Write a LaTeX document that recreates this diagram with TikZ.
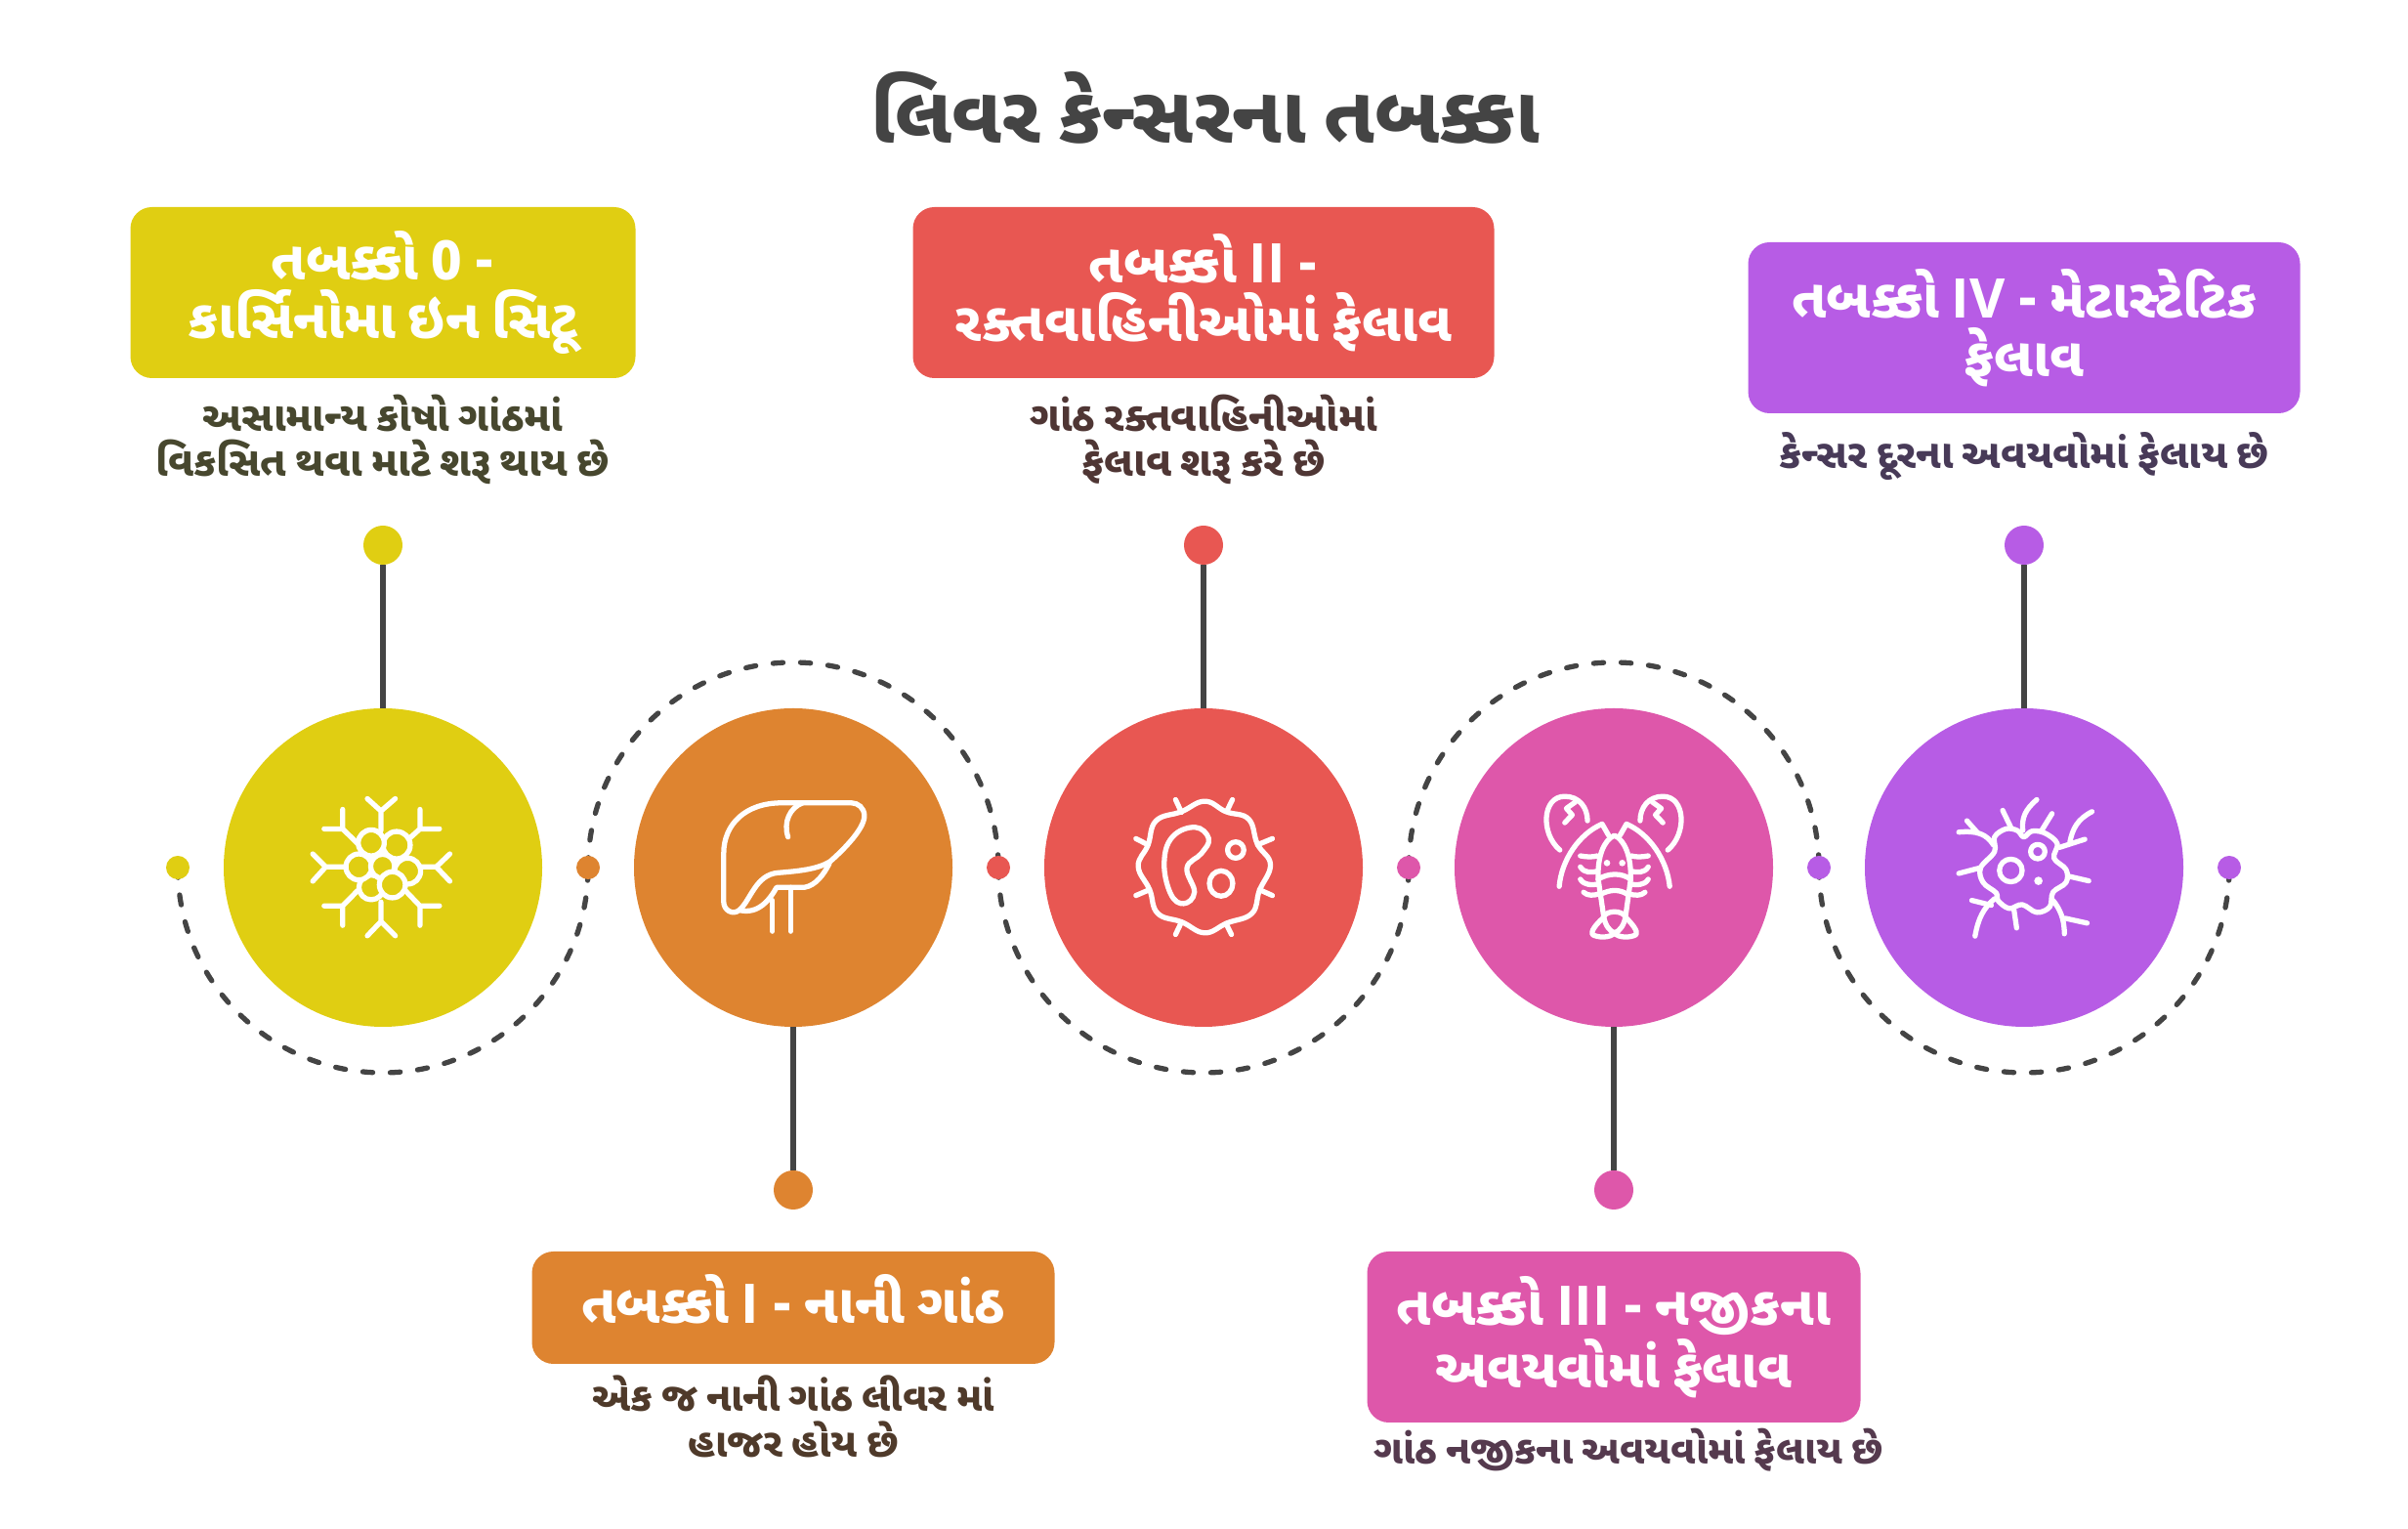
\documentclass[tikz,border=0pt]{standalone}
\usepackage{fontspec}
\usetikzlibrary{positioning}
\usetikzlibrary{backgrounds}
\newfontfamily\gujfont[Script=Gujarati,WordSpace=0.75]{Noto Sans Gujarati UI}
\newfontfamily\latinfont{Open Sans}
\newcommand{\rnum}[1]{{\latinfont\bfseries #1}}
\definecolor{cyellow}{HTML}{E0CE12}
\definecolor{corange}{HTML}{DE8430}
\definecolor{cred}{HTML}{E85752}
\definecolor{cpink}{HTML}{DE57AA}
\definecolor{cpurple}{HTML}{B75CE5}
\definecolor{cline}{HTML}{444444}
\definecolor{tyellow}{HTML}{47472E}
\definecolor{torange}{HTML}{4F3A2A}
\definecolor{tred}{HTML}{4F3634}
\definecolor{tpink}{HTML}{553A4E}
\definecolor{tpurple}{HTML}{483A58}
\tikzstyle{stagedisc} = [circle,inner sep=0pt,outer sep=0pt,minimum size=3.26cm]
\tikzstyle{tinydot} = [circle,inner sep=0pt,outer sep=0pt,minimum size=.24cm]
\tikzstyle{pindot} = [circle,inner sep=0pt,outer sep=0pt,minimum size=.40cm]
\tikzstyle{stem} = [draw=cline,line width=1.5pt]
\tikzstyle{dashline} = [draw=cline,line width=1.5pt,line cap=round,dash pattern=on 2.9pt off 5.1pt]
\tikzstyle{stagebox} = [rounded corners=.22cm,inner sep=0pt,outer sep=0pt,text=white,align=center,font=\gujfont\fontsize{15.9}{17}\selectfont\bfseries]
\tikzstyle{descr} = [inner sep=0pt,outer sep=0pt,align=center,font=\gujfont\fontsize{11.9}{13.2}\selectfont\bfseries]
\tikzstyle{icon} = [draw=white,line width=1.5pt,line cap=round,line join=round]

\begin{document}
\begin{tikzpicture}
\useasboundingbox (0,0) rectangle (24.65,15.65);

% Define nodes
\node[font=\gujfont\fontsize{23.2}{26}\selectfont\bfseries, text=cline] (title) at (12.34,14.55) {લિવર કેન્સરના તબક્કા};

\node[stagedisc, fill=cyellow]                (c0) at (3.92,6.77) {};
\node[stagedisc, fill=corange, right = .94cm of c0] (c1) {};
\node[stagedisc, fill=cred,    right = .94cm of c1] (c2) {};
\node[stagedisc, fill=cpink,   right = .94cm of c2] (c3) {};
\node[stagedisc, fill=cpurple, right = .94cm of c3] (c4) {};

\node[tinydot, fill=cyellow, left  = .35cm of c0] (d0) {};
\node[tinydot, fill=corange, right = .35cm of c0] (d1) {};
\node[tinydot, fill=cred,    right = .35cm of c1] (d2) {};
\node[tinydot, fill=cpink,   right = .35cm of c2] (d3) {};
\node[tinydot, fill=cpurple, right = .35cm of c3] (d4) {};
\node[tinydot, fill=cpurple, right = .35cm of c4] (d5) {};

\node[pindot, fill=cyellow, above = 1.47cm of c0] (p0) {};
\node[pindot, fill=corange, below = 1.47cm of c1] (p1) {};
\node[pindot, fill=cred,    above = 1.47cm of c2] (p2) {};
\node[pindot, fill=cpink,   below = 1.47cm of c3] (p3) {};
\node[pindot, fill=cpurple, above = 1.47cm of c4] (p4) {};

\node[stagebox, fill=cyellow, minimum width=5.17cm, minimum height=1.75cm, above = 1.51cm of p0] (b0) {તબક્કો 0 -\\કાર્સિનોમા ઇન સિટૂ};
\node[stagebox, fill=corange, minimum width=5.35cm, minimum height=1.15cm, below = .43cm of p1] (b1) {\strut તબક્કો \rnum{I} - નાની ગાંઠ};
\node[stagebox, fill=cred,    minimum width=5.95cm, minimum height=1.75cm, above = 1.51cm of p2] (b2) {તબક્કો \rnum{II} -\\રક્તવાહિનીઓમાં ફેલાવ};
\node[stagebox, fill=cpink,   minimum width=5.05cm, minimum height=1.75cm, below = .43cm of p3] (b3) {તબક્કો \rnum{III} - નજીકના\\અવયવોમાં ફેલાવ};
\node[stagebox, fill=cpurple, minimum width=5.65cm, minimum height=1.75cm, above = 1.15cm of p4] (b4) {તબક્કો \rnum{IV} - મેટાસ્ટેટિક\\ફેલાવ};

\node[descr, text=tyellow, below = .17cm of b0] (t0) {અસામાન્ય કોષો ગાંઠમાં\\વિકસિત થવા માટે શરૂ થાય છે};
\node[descr, text=torange, below = .12cm of b1, font=\gujfont\fontsize{11.65}{13.2}\selectfont\bfseries] (t1) {એક જ નાની ગાંઠ લીવર માં\\હાજર હોય છે};
\node[descr, text=tred,    below = .17cm of b2] (t2) {ગાંઠ રક્તવાહિનીઓમાં\\ફેલાવ શરૂ કરે છે};
\node[descr, text=tpink,   below = .06cm of b3, xshift=.15cm, font=\gujfont\fontsize{11.55}{13.2}\selectfont\bfseries] (t3) {ગાંઠ નજીકના અવયવોમાં ફેલાય છે};
\node[descr, text=tpurple, below = .2cm of b4, font=\gujfont\fontsize{11.75}{13.2}\selectfont\bfseries] (t4) {કેન્સર દૂરના અવયવોમાં ફેલાય છે};

% Edges
\draw[stem] (c0) -- (p0);
\draw[stem] (c1) -- (p1);
\draw[stem] (c2) -- (p2);
\draw[stem] (c3) -- (p3);
\draw[stem] (c4) -- (p4);

\begin{scope}[on background layer]
\draw[dashline] (d0.center) arc[start angle=180, end angle=360, radius=2.1cm];
\draw[dashline] (d1.center) arc[start angle=180, end angle=0,   radius=2.1cm];
\draw[dashline] (d2.center) arc[start angle=180, end angle=360, radius=2.1cm];
\draw[dashline] (d3.center) arc[start angle=180, end angle=0,   radius=2.1cm];
\draw[dashline] (d4.center) arc[start angle=180, end angle=360, radius=2.1cm];
\end{scope}

% Icons, in zoomed pixels
\begin{scope}[shift={(c0)}, x=.00333cm, y=-.00333cm, shift={(-336,-324)}]
\foreach \px/\py/\pr in {412/335/40, 378/255/42, 300/248/40, 300/385/38, 262/322/40, 335/320/37, 365/377/40}
	\draw[icon, fill=cyellow] (\px,\py) circle[radius=\pr];
\draw[icon] (330,210) -- (330,150) (288,112) -- (330,150) -- (374,112);
\draw[icon] (330,430) -- (330,490) (288,534) -- (330,490) -- (374,534);
\draw[icon] (222,322) -- (160,322) (120,282) -- (160,322) -- (120,366);
\draw[icon] (450,322) -- (500,322) (542,282) -- (500,322) -- (542,366);
\draw[icon] (258,250) -- (212,205) (155,205) -- (212,205) -- (212,145);
\draw[icon] (420,232) -- (450,205) (510,205) -- (450,205) -- (450,145);
\draw[icon] (258,395) -- (212,442) (155,442) -- (212,442) -- (212,502);
\draw[icon] (405,395) -- (450,442) (510,442) -- (450,442) -- (450,502);
\end{scope}

\begin{scope}[shift={(c1)}, x=.00333cm, y=-.00333cm, shift={(-336,-324)}]
\draw[icon] (515,125) -- (300,125) .. controls (190,125) and (122,190) .. (122,280) -- (122,430)
	.. controls (122,455) and (150,472) .. (170,455) .. controls (205,425) and (220,345) .. (290,340)
	.. controls (350,335) and (410,330) .. (450,305) .. controls (490,270) and (555,205) .. (555,165)
	.. controls (555,140) and (535,125) .. (515,125);
\draw[icon] (170,455) .. controls (230,470) and (265,420) .. (285,385) -- (370,385) .. controls (405,380) and (430,345) .. (447,312);
\draw[icon] (365,125) .. controls (325,140) and (305,185) .. (320,230);
\draw[icon] (272,425) -- (272,520);
\draw[icon] (328,385) -- (328,520);
\end{scope}

\begin{scope}[shift={(c2)}, x=.00333cm, y=-.00333cm, shift={(-306,-294)}]
\draw[icon] plot[smooth cycle, tension=.7] coordinates {(310,90) (375,122) (445,145) (472,222) (512,285) (478,365) (455,435) (378,465) (310,495) (240,462) (165,435) (140,362) (105,290) (135,225) (160,150) (238,122)};
\draw[icon] plot[smooth cycle, tension=.7] coordinates {(280,170) (322,205) (300,250) (255,295) (278,370) (245,405) (205,375) (185,280) (210,200)};
\draw[icon] (405,240) circle[radius=25];
\draw[icon] (360,343) circle[x radius=36, y radius=39];
\draw[icon] (395,85) -- (378,120);
\draw[icon] (518,205) -- (472,224);
\draw[icon] (518,380) -- (478,362);
\draw[icon] (392,500) -- (375,466);
\draw[icon] (220,500) -- (238,462);
\draw[icon] (98,380) -- (140,362);
\draw[icon] (98,205) -- (135,224);
\draw[icon] (220,85) -- (238,124);
\end{scope}

\begin{scope}[shift={(c3)}, x=.00333cm, y=-.00333cm, shift={(-306,-294)}]
\draw[icon] (140,240) .. controls (80,190) and (85,75) .. (155,75) .. controls (200,75) and (225,110) .. (225,150);
\draw[icon] (472,240) .. controls (532,190) and (527,75) .. (457,75) .. controls (412,75) and (387,110) .. (387,150);
\draw[icon] (188,92) -- (160,112) -- (178,132) -- (155,156);
\draw[icon] (424,92) -- (452,112) -- (434,132) -- (457,156);
\draw[icon] (138,352) .. controls (145,270) and (200,190) .. (270,160) -- (290,195);
\draw[icon] (478,352) .. controls (470,270) and (415,190) .. (345,160) -- (325,195);
\draw[icon] (258,330) .. controls (255,260) and (275,210) .. (308,195) .. controls (340,210) and (360,260) .. (358,330);
\draw[icon] (258,330) .. controls (290,310) and (330,310) .. (358,330);
\draw[icon] (262,378) .. controls (295,360) and (325,360) .. (350,378);
\draw[icon] (258,330) -- (275,445) .. controls (280,475) and (295,490) .. (308,495) .. controls (325,490) and (338,470) .. (342,445) -- (358,330);
\draw[icon] (275,445) .. controls (285,425) and (330,425) .. (342,445);
\draw[icon] (272,450) .. controls (250,470) and (235,490) .. (240,500) .. controls (255,510) and (295,512) .. (308,495);
\draw[icon] (345,450) .. controls (365,470) and (380,490) .. (375,500) .. controls (360,510) and (320,512) .. (308,495);
\draw[icon] (203,258) .. controls (225,262) and (240,262) .. (255,258);
\draw[icon] (203,292) .. controls (215,312) and (240,310) .. (256,305);
\draw[icon] (203,330) .. controls (215,350) and (240,348) .. (258,345);
\draw[icon] (213,370) .. controls (225,382) and (245,380) .. (260,375);
\draw[icon] (412,258) .. controls (390,262) and (375,262) .. (360,258);
\draw[icon] (412,292) .. controls (400,312) and (375,310) .. (360,305);
\draw[icon] (412,330) .. controls (400,350) and (375,348) .. (358,345);
\draw[icon] (402,370) .. controls (390,382) and (370,380) .. (353,375);
\fill[white] (285,280) circle[radius=10];
\fill[white] (332,280) circle[radius=10];
\end{scope}

\begin{scope}[shift={(c4)}, x=.00333cm, y=-.00333cm, shift={(-306,-294)}]
\draw[icon] plot[smooth cycle, tension=.6] coordinates {(305,200) (330,182) (370,188) (408,220) (398,265) (435,300) (435,340) (395,370) (385,415) (345,432) (300,408) (260,420) (225,395) (220,372) (180,340) (172,295) (215,245) (215,200) (250,175) (285,180)};
\draw[icon] (265,303) circle[radius=35];
\draw[icon] (348,245) circle[radius=22];
\fill[white] (350,335) circle[radius=13];
\draw[icon] (212,225) .. controls (190,190) and (160,180) .. (105,185);
\draw[icon] (130,150) -- (162,186);
\draw[icon] (105,312) -- (170,295);
\draw[icon] (240,118) -- (265,170);
\draw[icon] (345,85) .. controls (310,115) and (298,140) .. (302,180);
\draw[icon] (392,128) -- (360,180);
\draw[icon] (515,122) .. controls (470,145) and (455,175) .. (447,215);
\draw[icon] (493,207) -- (415,232);
\draw[icon] (505,335) -- (440,320);
\draw[icon] (500,465) -- (432,450);
\draw[icon] (395,395) .. controls (415,420) and (430,450) .. (430,498);
\draw[icon] (275,425) -- (283,480);
\draw[icon] (215,390) .. controls (180,420) and (165,450) .. (155,505);
\draw[icon] (145,395) -- (205,410);
\end{scope}
\end{tikzpicture}
\end{document}
